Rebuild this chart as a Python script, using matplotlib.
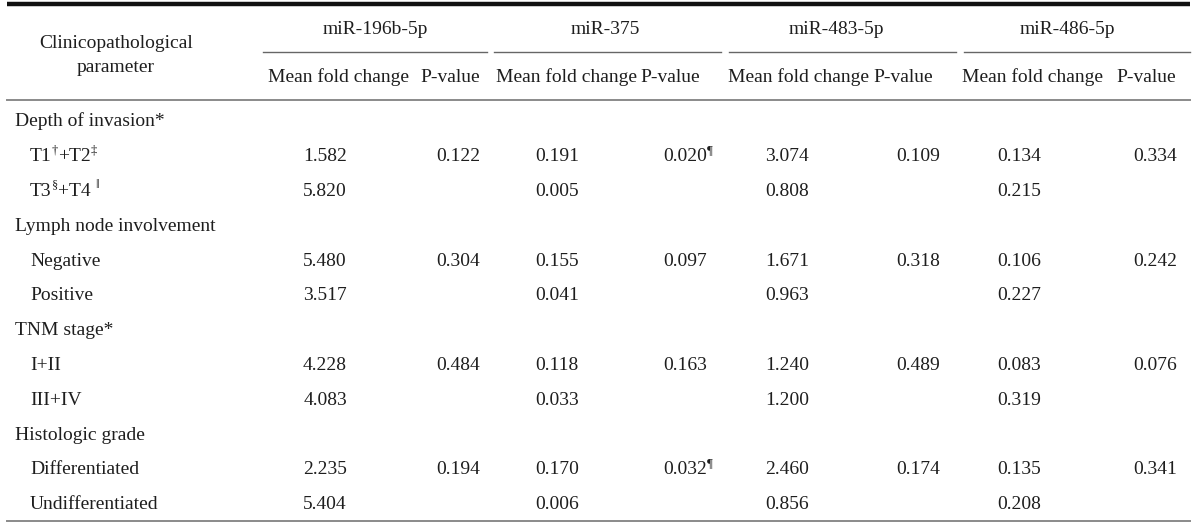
import matplotlib
matplotlib.use("Agg")
import matplotlib.pyplot as plt

plt.rcParams['font.family'] = ['Liberation Serif', 'DejaVu Serif']

# ---- data ----
mirnas = ["miR-196b-5p", "miR-375", "miR-483-5p", "miR-486-5p"]
sub_headers = ["Mean fold change", "P-value"]
groups = ["Depth of invasion*", "Lymph node involvement", "TNM stage*", "Histologic grade"]
levels = [
    ["T1†+T2‡", "T3§+T4 ‖"],
    ["Negative", "Positive"],
    ["I+II", "III+IV"],
    ["Differentiated", "Undifferentiated"],
]
mean_196b = [["1.582", "5.820"], ["5.480", "3.517"], ["4.228", "4.083"], ["2.235", "5.404"]]
p_196b = ["0.122", "0.304", "0.484", "0.194"]
mean_375 = [["0.191", "0.005"], ["0.155", "0.041"], ["0.118", "0.033"], ["0.170", "0.006"]]
p_375 = ["0.020¶", "0.097", "0.163", "0.032¶"]
mean_483 = [["3.074", "0.808"], ["1.671", "0.963"], ["1.240", "1.200"], ["2.460", "0.856"]]
p_483 = ["0.109", "0.318", "0.489", "0.174"]
mean_486 = [["0.134", "0.215"], ["0.106", "0.227"], ["0.083", "0.319"], ["0.135", "0.208"]]
p_486 = ["0.334", "0.242", "0.076", "0.341"]

means = [mean_196b, mean_375, mean_483, mean_486]
pvals = [p_196b, p_375, p_483, p_486]

SUPS = "†‡§‖¶"

# ---- layout ----
W, H = 1200, 527
fig = plt.figure(figsize=(W / 100, H / 100), dpi=100)
ax = fig.add_axes([0, 0, 1, 1])
ax.set_xlim(0, W)
ax.set_ylim(H, 0)
ax.axis('off')
renderer = fig.canvas.get_renderer()

fs = 14
sfs = 9
tc = '#1e1e1e'
gray = '#8a8a8a'
BL = 6.5  # baseline offset from visual centre


def put(x, y, s, ha='center'):
    ax.text(x, y + BL, s, ha=ha, va='baseline', fontsize=fs, color=tc)


def put_rich(x, y, s, ha='left', center_main=False):
    # split into runs of normal / superscript characters
    runs = []
    for ch in s:
        sup = ch in SUPS
        if runs and runs[-1][1] == sup:
            runs[-1][0] += ch
        else:
            runs.append([ch, sup])
    arts = []
    for txt, sup in runs:
        t = ax.text(0, y + BL - (8 if sup else 0), txt, ha='left', va='baseline',
                    fontsize=sfs if sup else fs, color=tc)
        w = t.get_window_extent(renderer).width
        arts.append((t, w, sup))
    total = sum(w for _, w, _ in arts)
    if center_main:
        main_w = sum(w for _, w, sup in arts if not sup)
        cx = x - main_w / 2
    elif ha == 'center':
        cx = x - total / 2
    else:
        cx = x
    for t, w, sup in arts:
        t.set_x(cx)
        cx += w


# rules
ax.plot([7, 1190], [4, 4], color='#111111', lw=3.2, solid_capstyle='butt')
ax.plot([7, 1190], [100, 100], color=gray, lw=1.4)
ax.plot([7, 1190], [521, 521], color=gray, lw=1.4)
group_spans = [(263, 487), (494, 721), (729, 956), (964, 1190)]
for x0, x1 in group_spans:
    ax.plot([x0, x1], [52, 52], color='#666666', lw=1.0)

# header
put(116, 42, "Clinicopathological")
put(116, 65, "parameter")
head_cx = [375, 605, 836, 1067]
sub_mean_cx = [338, 567, 799, 1033]
sub_p_cx = [450, 670, 903, 1146]
for i, m in enumerate(mirnas):
    put(head_cx[i], 27, m)
    put(sub_mean_cx[i], 76, sub_headers[0])
    put(sub_p_cx[i], 76, sub_headers[1])

# body
val_mean_cx = [325, 557, 787, 1019]
val_p_cx = [458, 685, 918, 1155]
row_y0 = 120
row_h = 34.8
r = 0
for g, grp in enumerate(groups):
    y = row_y0 + r * row_h
    put(15, y, grp, ha='left')
    r += 1
    for k, lev in enumerate(levels[g]):
        y = row_y0 + r * row_h
        put_rich(30, y, lev, ha='left')
        for i in range(4):
            put(val_mean_cx[i], y, means[i][g][k])
            if k == 0:
                put_rich(val_p_cx[i], y, pvals[i][g], center_main=True)
        r += 1

fig.savefig("out.png", dpi=100)
